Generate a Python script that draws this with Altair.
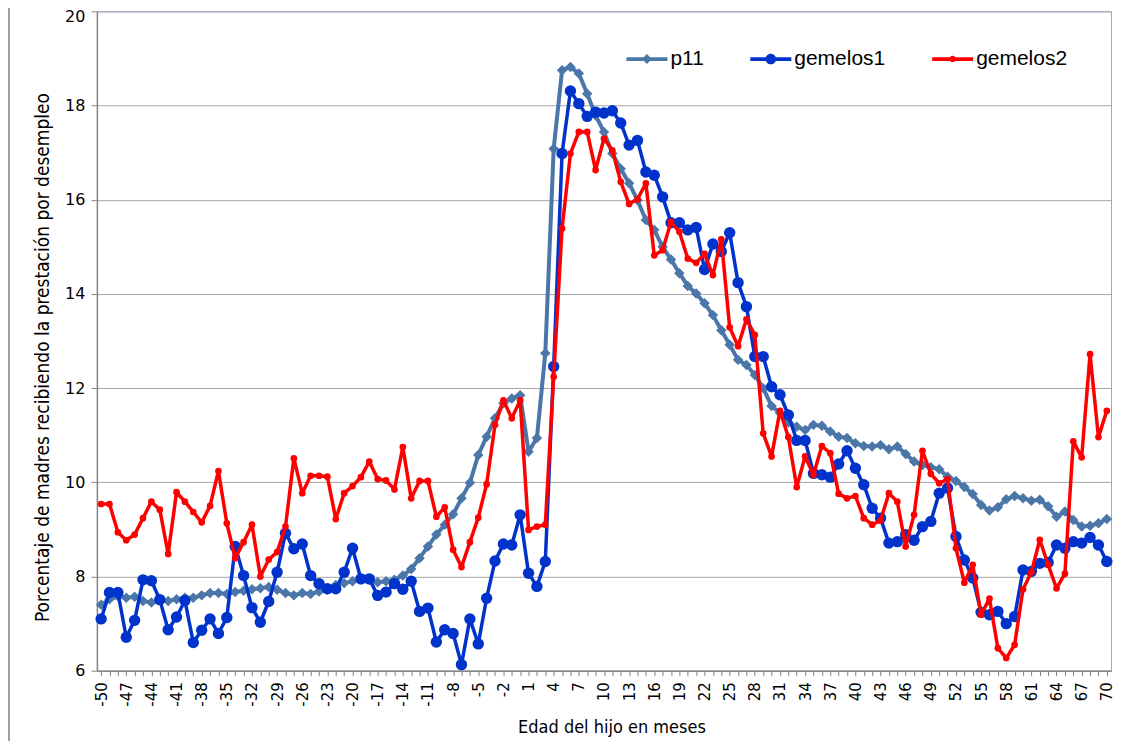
import altair as alt
import pandas as pd

months = list(range(-50, 71))

p11 = [
    7.40, 7.52, 7.58, 7.55, 7.57, 7.48, 7.45, 7.50, 7.48, 7.52,
    7.55, 7.55, 7.60, 7.65, 7.65, 7.63, 7.67, 7.70, 7.73, 7.75,
    7.78, 7.72, 7.65, 7.60, 7.65, 7.63, 7.68, 7.72, 7.82, 7.86,
    7.90, 7.94, 7.93, 7.88, 7.90, 7.93, 8.02, 8.16, 8.39, 8.64,
    8.89, 9.10, 9.32, 9.66, 9.99, 10.58, 10.97, 11.36, 11.68, 11.78,
    11.85,
    10.65, 10.94, 12.74, 17.08, 18.75, 18.82, 18.68, 18.25, 17.79, 17.44,
    16.98, 16.66, 16.35, 15.99, 15.57, 15.36, 15.00, 14.73, 14.44, 14.17,
    14.01, 13.80, 13.55, 13.23, 12.92, 12.60, 12.49, 12.28, 12.00, 11.62,
    11.47, 11.27, 11.18, 11.11, 11.22, 11.20, 11.08, 10.97, 10.94, 10.83,
    10.77, 10.76, 10.79, 10.70, 10.76, 10.60, 10.44, 10.37, 10.32, 10.28,
    10.12, 10.03, 9.90, 9.75, 9.52, 9.40, 9.47, 9.64, 9.71, 9.66,
    9.61, 9.63, 9.49, 9.27, 9.38, 9.20, 9.06, 9.08, 9.13, 9.22,
]

gemelos1 = [
    7.10, 7.66, 7.66, 6.71, 7.07, 7.93, 7.91, 7.51, 6.87, 7.14,
    7.49, 6.60, 6.86, 7.10, 6.79, 7.13, 8.64, 8.02, 7.34, 7.03,
    7.47, 8.09, 8.92, 8.59, 8.69, 8.02, 7.85, 7.74, 7.74, 8.09,
    8.60, 7.95, 7.95, 7.60, 7.67, 7.85, 7.73, 7.90, 7.26, 7.33,
    6.61, 6.87, 6.79, 6.13, 7.10, 6.57, 7.54, 8.33, 8.69, 8.67,
    9.31,
    8.07, 7.79, 8.32, 12.46, 16.98, 18.31, 18.04, 17.77, 17.86, 17.84,
    17.89, 17.63, 17.16, 17.26, 16.59, 16.52, 16.06, 15.51, 15.51, 15.36,
    15.41, 14.52, 15.06, 14.90, 15.30, 14.24, 13.73, 12.67, 12.67, 12.03,
    11.86, 11.43, 10.89, 10.89, 10.19, 10.16, 10.11, 10.39, 10.67, 10.30,
    9.95, 9.45, 9.24, 8.71, 8.74, 8.89, 8.77, 9.06, 9.17, 9.77,
    9.88, 8.85, 8.35, 7.97, 7.24, 7.19, 7.26, 7.00, 7.15, 8.14,
    8.11, 8.28, 8.30, 8.67, 8.60, 8.74, 8.71, 8.83, 8.67, 8.32,
]

gemelos2 = [
    9.54, 9.54, 8.94, 8.77, 8.89, 9.24, 9.59, 9.42, 8.48, 9.79,
    9.59, 9.37, 9.15, 9.50, 10.24, 9.13, 8.39, 8.73, 9.10, 8.00,
    8.36, 8.52, 9.06, 10.51, 9.77, 10.14, 10.14, 10.12, 9.22, 9.77,
    9.92, 10.11, 10.44, 10.07, 10.04, 9.85, 10.75, 9.66, 10.03, 10.03,
    9.27, 9.47, 8.57, 8.20, 8.73, 9.25, 9.96, 11.22, 11.74, 11.36,
    11.74,
    8.99, 9.06, 9.10, 12.24, 15.39, 16.98, 17.44, 17.44, 16.63, 17.30,
    17.05, 16.38, 15.91, 16.01, 16.35, 14.82, 14.93, 15.53, 15.32, 14.75,
    14.66, 14.85, 14.40, 15.16, 13.29, 12.89, 13.46, 13.13, 11.04, 10.55,
    11.52, 10.96, 9.90, 10.55, 10.16, 10.77, 10.62, 9.76, 9.66, 9.71,
    9.24, 9.10, 9.19, 9.77, 9.59, 8.64, 9.31, 10.67, 10.18, 9.98,
    10.07, 8.60, 7.87, 8.25, 7.19, 7.53, 6.48, 6.27, 6.55, 7.73,
    8.09, 8.78, 8.25, 7.75, 8.06, 10.87, 10.53, 12.72, 10.96, 11.52,
]

series_names = ["p11", "gemelos1", "gemelos2"]
series_colors = ["#4A76A8", "#0033CC", "#FF0000"]
y_ticks = [6, 8, 10, 12, 14, 16, 18, 20]

df = pd.DataFrame({
    "mes": months * 3,
    "valor": p11 + gemelos1 + gemelos2,
    "serie": ["p11"] * len(months) + ["gemelos1"] * len(months) + ["gemelos2"] * len(months),
})

TICK_FONT = "DejaVu Sans"
TITLE_FONT = "Liberation Sans Narrow, DejaVu Sans Condensed, sans-serif"

x_enc = alt.X(
    "mes:Q",
    scale=alt.Scale(domain=[-50.5, 70.5], nice=False, zero=False),
    axis=alt.Axis(
        values=months,
        labelExpr="(datum.value + 50) % 3 == 0 ? '' + datum.value : ''",
        labelAngle=270,
        labelAlign="right",
        labelBaseline="middle",
        labelFont=TICK_FONT,
        labelFontSize=15,
        labelColor="#000000",
        labelPadding=6,
        labelOverlap=False,
        labelFlush=False,
        tickSize=5,
        tickColor="#868686",
        domainColor="#868686",
        domainWidth=1.5,
        grid=False,
        title="Edad del hijo en meses",
        titleFont=TITLE_FONT,
        titleFontSize=18,
        titleFontWeight="normal",
        titleColor="#000000",
        titleX=515,
        titleY=62,
        titleBaseline="alphabetic",
        titleAlign="center",
    ),
)

y_enc = alt.Y(
    "valor:Q",
    scale=alt.Scale(domain=[6, 20], nice=False, zero=False),
    axis=alt.Axis(
        values=y_ticks,
        labelFont=TICK_FONT,
        labelFontSize=16,
        labelColor="#000000",
        labelPadding=6,
        labelFlush=False,
        labelBaseline={"condition": {"test": "datum.value >= 20", "value": "top"}, "value": "middle"},
        labelOffset={"condition": {"test": "datum.value >= 20", "value": -3}, "value": 0},
        tickSize=6,
        tickColor="#868686",
        domainColor="#868686",
        domainWidth=1.5,
        grid=True,
        gridColor="#A6A6A6",
        gridWidth=1,
        title="Porcentaje de madres recibiendo la prestación por desempleo",
        titleFont=TITLE_FONT,
        titleFontSize=19,
        titleFontWeight="normal",
        titleColor="#000000",
        titleAngle=270,
        titleX=-44,
        titleY=346,
        titleAlign="center",
        titleBaseline="bottom",
    ),
)

styles = {
    "p11": dict(shape="diamond", size=110, width=4),
    "gemelos1": dict(shape="circle", size=130, width=3.5),
    "gemelos2": dict(shape="circle", size=45, width=3.5),
}

layers = []
for name, color in zip(series_names, series_colors):
    st = styles[name]
    base = alt.Chart(df).transform_filter(alt.datum.serie == name)
    layers.append(
        base.mark_line(color=color, strokeWidth=st["width"], strokeJoin="round", strokeCap="round")
        .encode(x=x_enc, y=y_enc)
    )
    layers.append(
        base.mark_point(filled=True, shape=st["shape"], size=st["size"], color=color, opacity=1)
        .encode(x=x_enc, y=y_enc)
    )

bar = "M-1,-0.09H1V0.09H-1Z "
legend_paths = [
    bar + "M0,-0.24L0.24,0L0,0.24L-0.24,0Z",
    bar + "M-0.26,0A0.26,0.26 0 1,1 0.26,0A0.26,0.26 0 1,1 -0.26,0Z",
    bar + "M-0.16,0A0.16,0.16 0 1,1 0.16,0A0.16,0.16 0 1,1 -0.16,0Z",
]

leg = alt.Legend(
    title=None,
    orient="none",
    legendX=530,
    legendY=27,
    direction="horizontal",
    symbolSize=1681,
    symbolStrokeWidth=0,
    symbolOpacity=1,
    labelFont="Liberation Sans",
    labelFontSize=21,
    labelColor="#000000",
    labelOffset=3,
    columnPadding=46,
    padding=0,
)

legend_layer = (
    alt.Chart(df)
    .transform_filter("datum.mes > 999")
    .mark_point(filled=True, opacity=1)
    .encode(
        x=x_enc,
        y=y_enc,
        color=alt.Color("serie:N", scale=alt.Scale(domain=series_names, range=series_colors), legend=leg),
        shape=alt.Shape("serie:N", scale=alt.Scale(domain=series_names, range=legend_paths), legend=leg),
    )
)

frame = alt.Chart(df).mark_rule(color="#A0A0A0", strokeWidth=2).encode(
    x=alt.value(-88), y=alt.value(-3), y2=alt.value(738)
)

chart = (
    alt.layer(*layers, legend_layer, frame)
    .properties(
        width=1015,
        height=660,
        padding={"left": 89, "top": 3, "right": 10, "bottom": 70},
        autosize=alt.AutoSizeParams(type="none"),
        background="#FFFFFF",
    )
    .configure_view(stroke="#8FAADC", strokeWidth=1)
)

chart.save("out.html", embed_options={"renderer": "svg", "actions": False})
